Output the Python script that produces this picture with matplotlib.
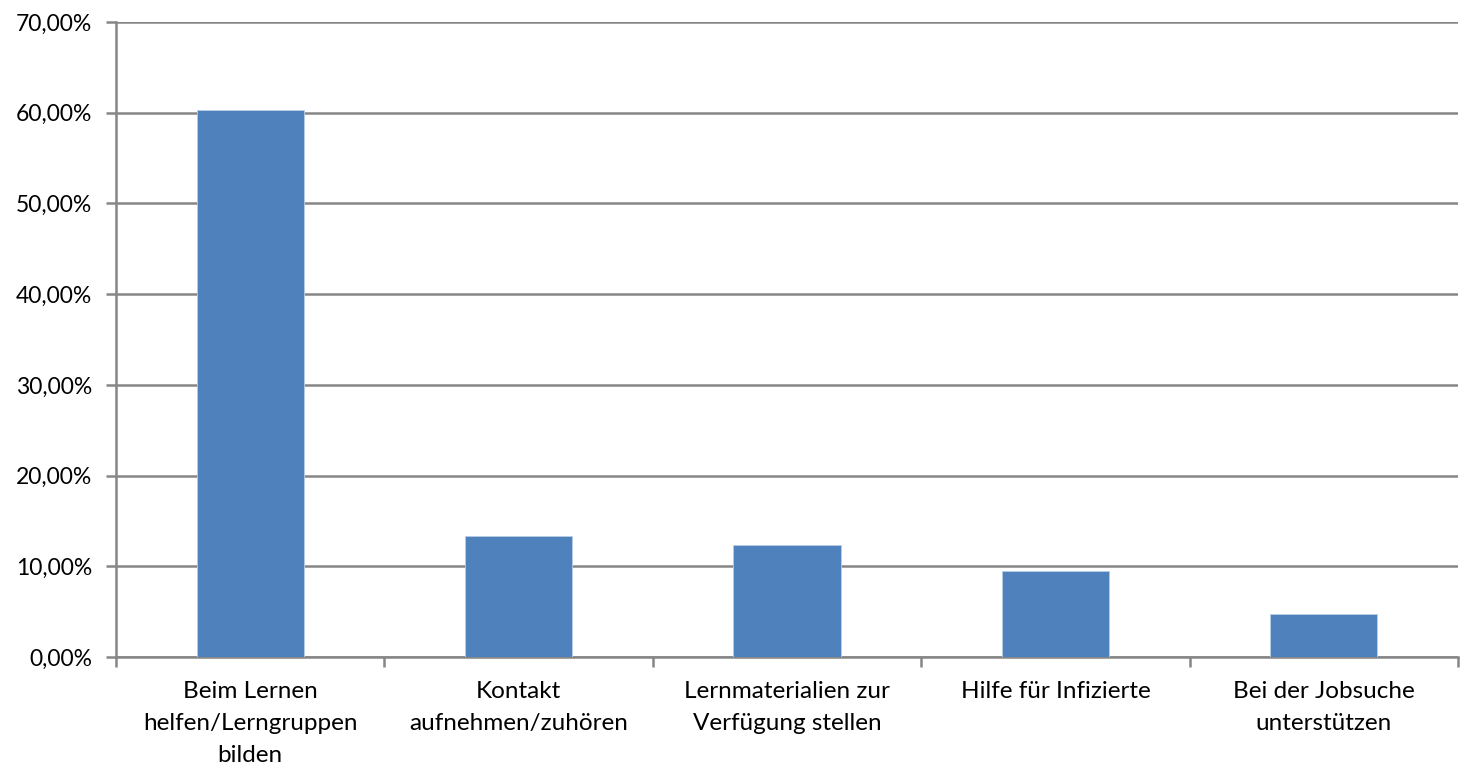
import matplotlib
matplotlib.use("Agg")
import matplotlib.pyplot as plt
from matplotlib.ticker import FuncFormatter, FixedLocator

plt.rcParams['font.family'] = ['Lato', 'DejaVu Sans']

categories = ["Beim Lernen\nhelfen/Lerngruppen\nbilden",
              "Kontakt\naufnehmen/zuhören",
              "Lernmaterialien zur\nVerfügung stellen",
              "Hilfe für Infizierte",
              "Bei der Jobsuche\nunterstützen"]
values = [60.35, 13.3, 12.3, 9.5, 4.75]

fig = plt.figure(figsize=(14.69, 7.67), dpi=100)
ax = fig.add_axes([116 / 1469, 1 - 657 / 767, (1458 - 116) / 1469, (657 - 22) / 767])

grid_col = '#868686'
x = range(len(categories))
ax.bar(x, values, width=0.4, color='#4f81bd', edgecolor='#b9cde5', linewidth=0.6, zorder=3)

ax.set_xlim(-0.5, len(categories) - 0.5)
ax.set_ylim(0, 70)
ax.set_yticks(range(0, 71, 10))
ax.yaxis.set_major_formatter(FuncFormatter(lambda v, p: f"{v:.2f}%".replace('.', ',')))
ax.yaxis.grid(True, color=grid_col, linewidth=1.8, zorder=0)

# category labels centred, ticks on boundaries
ax.set_xticks(list(x))
ax.set_xticklabels(categories, fontsize=17.5, linespacing=1.65)
ax.tick_params(axis='x', length=0, pad=17)
ax.xaxis.set_minor_locator(FixedLocator([i - 0.5 for i in range(len(categories) + 1)]))
ax.tick_params(axis='x', which='minor', length=7, width=1.8, color=grid_col, direction='out')
ax.tick_params(axis='y', length=7, width=1.8, color=grid_col, direction='out', labelsize=16.5, pad=10)

for s in ['top', 'right']:
    ax.spines[s].set_visible(False)
for s in ['left', 'bottom']:
    ax.spines[s].set_color(grid_col)
    ax.spines[s].set_linewidth(1.8)

fig.savefig("out.png", dpi=100)
